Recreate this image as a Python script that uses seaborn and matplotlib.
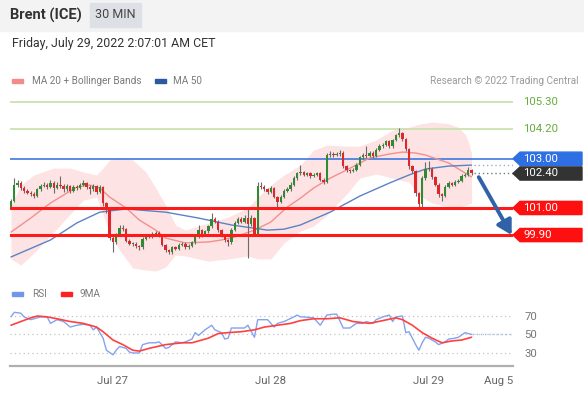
import numpy as np
import pandas as pd
import matplotlib
matplotlib.use("Agg")
import matplotlib.pyplot as plt
import matplotlib.transforms as mtransforms
from matplotlib.patches import Rectangle, Polygon
import seaborn as sns

# ---------------- data ----------------
title = "Brent (ICE)"
timeframe = "30 MIN"
date_text = "Friday, July 29, 2022 2:07:01 AM CET"
start_time = "2022-07-26 08:30"

opens = [101.05, 101.30, 101.95, 102.02, 101.80, 101.70, 101.62, 101.58, 101.50, 101.75,
         101.90, 101.95, 101.85, 102.00, 101.80, 101.95, 101.90, 101.75, 101.90, 101.70,
         101.85, 101.80, 101.95, 102.00, 101.85, 101.75, 101.90, 101.65, 101.85, 101.20,
         100.90, 99.80, 99.60, 99.90, 100.20, 100.15, 99.65, 99.55, 99.55, 99.45,
         99.40, 99.75, 99.85, 99.85, 99.95, 100.00, 99.90, 99.50, 99.30, 99.20,
         99.40, 99.35, 99.50, 99.55, 99.40, 99.45, 99.60, 99.85, 100.10, 99.90,
         100.05, 100.25, 100.55, 100.45, 100.10, 99.90, 99.70, 99.60, 100.10, 100.40,
         100.55, 100.45, 100.60, 100.35, 100.60, 99.95, 101.90, 101.85, 101.75, 101.65,
         101.80, 101.45, 101.25, 101.45, 101.70, 101.75, 101.95, 102.20, 102.40, 102.45,
         102.35, 102.40, 102.30, 102.35, 102.40, 102.15, 102.05, 103.15, 103.20, 103.15,
         103.20, 103.25, 102.70, 102.55, 102.50, 102.55, 102.75, 103.05, 103.15, 103.10,
         103.25, 103.10, 103.35, 103.50, 103.55, 103.70, 103.50, 103.75, 103.95, 104.05,
         103.80, 103.40, 102.70, 102.50, 101.60, 101.15, 102.20, 102.60, 102.60, 102.25,
         101.95, 101.55, 101.50, 101.85, 102.00, 101.95, 102.05, 102.10, 102.30, 102.35,
         102.55]
closes = [101.30, 101.95, 102.02, 101.80, 101.70, 101.62, 101.58, 101.50, 101.75, 101.90,
          101.95, 101.85, 102.00, 101.80, 101.95, 101.90, 101.75, 101.90, 101.70, 101.85,
          101.80, 101.95, 102.00, 101.85, 101.75, 101.90, 101.65, 101.85, 101.20, 100.90,
          99.80, 99.60, 99.90, 100.20, 100.15, 99.65, 99.55, 99.55, 99.45, 99.40,
          99.75, 99.85, 99.85, 99.95, 100.00, 99.90, 99.50, 99.30, 99.20, 99.40,
          99.35, 99.50, 99.55, 99.40, 99.45, 99.60, 99.85, 100.10, 99.90, 100.05,
          100.25, 100.55, 100.45, 100.10, 99.90, 99.70, 99.60, 100.10, 100.40, 100.55,
          100.45, 100.60, 100.35, 100.60, 99.95, 101.90, 101.85, 101.75, 101.65, 101.80,
          101.45, 101.25, 101.45, 101.70, 101.75, 101.95, 102.20, 102.40, 102.45, 102.35,
          102.40, 102.30, 102.35, 102.40, 102.15, 102.05, 103.15, 103.20, 103.15, 103.20,
          103.25, 102.70, 102.55, 102.50, 102.55, 102.75, 103.05, 103.15, 103.10, 103.25,
          103.10, 103.35, 103.50, 103.55, 103.70, 103.50, 103.75, 103.95, 104.05, 103.80,
          103.40, 102.70, 102.50, 101.60, 101.15, 102.20, 102.60, 102.60, 102.25, 101.95,
          101.55, 101.50, 101.85, 102.00, 101.95, 102.05, 102.10, 102.30, 102.35, 102.55,
          102.40]
highs = [101.38, 102.22, 102.12, 102.08, 101.88, 101.78, 101.70, 101.66, 101.80, 101.98,
         102.05, 102.02, 102.12, 102.08, 102.05, 102.30, 101.98, 101.98, 101.95, 101.92,
         101.92, 102.02, 102.12, 102.05, 101.92, 101.98, 101.95, 101.92, 101.90, 101.25,
         100.95, 99.85, 100.00, 100.30, 100.30, 100.20, 99.72, 99.62, 99.60, 99.50,
         99.82, 99.92, 99.92, 100.02, 100.08, 100.05, 99.95, 99.55, 99.35, 99.46,
         99.45, 99.56, 99.62, 99.60, 99.52, 99.66, 99.92, 100.30, 100.15, 100.12,
         100.32, 100.80, 100.62, 100.50, 100.15, 99.95, 99.75, 100.18, 100.48, 100.65,
         100.62, 100.72, 101.00, 100.70, 100.65, 102.05, 102.05, 101.95, 101.82, 101.88,
         101.85, 101.50, 101.52, 101.78, 101.85, 102.05, 102.28, 102.48, 102.75, 102.52,
         102.48, 102.45, 102.42, 102.48, 102.45, 102.20, 103.22, 103.30, 103.28, 103.28,
         103.35, 103.30, 102.75, 102.60, 102.62, 102.82, 103.12, 103.25, 103.50, 103.32,
         103.30, 103.42, 103.58, 103.65, 103.78, 103.75, 103.82, 104.02, 104.25, 104.10,
         103.85, 103.45, 102.75, 102.55, 101.65, 102.28, 102.85, 102.90, 102.65, 102.30,
         102.00, 101.62, 101.92, 102.08, 102.05, 102.12, 102.18, 102.38, 102.42, 102.65,
         102.58]
lows = [100.98, 101.25, 101.85, 101.74, 101.62, 101.55, 101.50, 101.42, 101.46, 101.70,
        101.85, 101.78, 101.80, 101.62, 101.75, 101.82, 101.66, 101.70, 101.62, 101.66,
        101.72, 101.76, 101.90, 101.78, 101.55, 101.70, 101.58, 101.60, 101.10, 100.80,
        99.70, 99.20, 99.55, 99.85, 100.05, 99.60, 99.48, 99.45, 99.38, 99.30,
        99.35, 99.70, 99.78, 99.80, 99.90, 99.84, 99.45, 99.22, 99.12, 99.15,
        99.28, 99.30, 99.45, 99.33, 99.35, 99.40, 99.55, 99.80, 99.82, 99.85,
        100.00, 100.20, 100.38, 100.02, 99.82, 99.62, 99.45, 99.55, 100.05, 100.35,
        100.38, 100.40, 98.95, 100.28, 99.88, 99.90, 101.75, 101.68, 101.58, 101.60,
        101.40, 101.05, 101.20, 101.40, 101.65, 101.70, 101.90, 102.15, 102.35, 102.28,
        102.30, 102.22, 102.25, 102.30, 102.08, 101.98, 102.00, 103.08, 103.08, 103.10,
        103.12, 102.62, 102.48, 102.42, 102.45, 102.50, 102.70, 103.00, 103.02, 103.05,
        103.02, 103.05, 103.30, 103.45, 103.50, 103.42, 103.45, 103.70, 103.90, 103.72,
        103.32, 102.60, 102.40, 101.50, 100.95, 101.05, 102.15, 102.50, 102.18, 101.88,
        101.45, 101.30, 101.45, 101.80, 101.88, 101.90, 102.00, 102.05, 102.25, 102.30,
        102.35]

ma20_idx = [0, 6, 12, 20, 24, 27, 30, 35, 39, 44, 47, 53, 60, 64, 68, 74, 79, 84, 88,
            92, 97, 102, 109, 115, 119, 123, 126, 133, 140]
ma20_vals = [100.02, 100.59, 101.20, 101.85, 101.93, 101.81, 101.44, 101.00, 100.51, 100.10,
             99.78, 99.58, 99.62, 99.70, 99.82, 100.10, 100.43, 101.04, 101.40, 101.81,
             102.21, 102.54, 103.03, 103.19, 103.27, 103.23, 103.15, 102.83, 102.26]

ma50_idx = [0, 12, 20, 27, 35, 47, 57, 67, 78, 83, 88, 97, 106, 115, 121, 126, 133, 140]
ma50_vals = [99.01, 99.70, 100.39, 100.83, 100.96, 100.83, 100.59, 100.31, 100.10, 100.14,
             100.31, 100.83, 101.48, 102.01, 102.34, 102.58, 102.70, 102.74]

band_idx = [0, 3, 7, 13, 18, 22, 26, 28, 30, 33, 37, 41, 44, 47, 50, 53, 60, 66, 72, 75,
            79, 83, 88, 92, 96, 102, 106, 111, 116, 121, 124, 128, 133, 136, 138, 139, 140]
band_upper = [101.12, 101.93, 102.34, 102.62, 102.62, 102.46, 102.34, 102.62, 102.95, 103.03,
              102.95, 102.46, 101.81, 101.12, 100.31, 100.10, 100.39, 100.63, 101.00, 101.44,
              101.93, 102.34, 102.74, 103.35, 103.55, 103.51, 103.51, 103.76, 104.16, 104.28,
              104.40, 104.49, 104.42, 104.28, 104.00, 103.70, 103.20]
band_lower = [98.93, 98.68, 99.17, 100.02, 100.75, 101.32, 101.44, 100.75, 99.94, 99.29,
              98.56, 98.48, 98.44, 98.60, 99.09, 99.05, 98.84, 98.93, 99.05, 98.93,
              98.93, 99.58, 100.06, 100.27, 100.71, 101.56, 102.21, 102.38, 102.21, 102.05,
              101.50, 101.20, 101.05, 101.05, 101.10, 101.15, 101.20]

rsi_idx = [0, 1, 3, 4, 6, 9, 11, 12, 14, 16, 18, 20, 22, 24, 25, 26, 28, 29, 31, 32,
           33, 35, 36, 37, 39, 40, 42, 44, 45, 47, 48, 50, 52, 53, 55, 56, 57, 59, 61, 62,
           64, 65, 66, 67, 69, 71, 72, 74, 75, 78, 80, 81, 83, 86, 87, 88, 89, 92, 94, 96,
           98, 99, 101, 103, 105, 107, 108, 110, 111, 113, 115, 116, 117, 119, 120, 121, 123,
           124, 125, 126, 127, 129, 130, 132, 133, 135, 136, 138, 139, 140]
rsi_vals = [69, 74, 73, 69, 66, 69, 69, 62, 66, 64, 58, 60, 61, 60, 55, 58, 46, 33, 28, 33,
            37, 35, 31, 30, 30, 39, 41, 41, 42, 35, 36, 42, 41, 42, 45, 52, 49, 55, 60, 55,
            52, 45, 46, 57, 57, 57, 60, 47, 66, 66, 58, 62, 64, 69, 71, 69, 69, 68, 60, 71,
            72, 72, 57, 57, 62, 62, 64, 62, 66, 69, 71, 64, 69, 70, 52, 53, 39,
            33, 41, 47, 46, 42, 39, 42, 45, 46, 47, 52, 51, 50]

ma9_idx = [0, 3, 6, 8, 11, 14, 18, 22, 26, 28, 31, 34, 37, 39, 42, 47, 52, 55, 60, 63,
           66, 70, 74, 77, 81, 85, 88, 92, 96, 100, 104, 109, 113, 117, 119, 122, 125, 128,
           131, 134, 137, 140]
ma9_vals = [60, 64, 68, 70, 69, 67, 64, 62, 58, 53, 44, 39, 33, 32, 35, 39, 41, 41, 46, 51,
            52, 53, 55, 58, 60, 62, 65, 67, 67, 68, 64, 62, 65, 68, 66, 60, 52, 46,
            41, 43, 44, 47]

levels_green = [105.30, 104.20]
level_blue = 103.00
levels_red = [101.00, 99.90]
rsi_levels = [70, 50, 30]
day_labels = ["Jul 27", "Jul 28", "Jul 29"]
end_label = "Aug 5"

# ---------------- style ----------------
sns.set_theme(style="white")
plt.rcParams['font.family'] = ['Roboto', 'DejaVu Sans']

W, H = 584, 393
fig = plt.figure(figsize=(W / 100, H / 100), dpi=100)
fig.patch.set_facecolor('white')

def fx(px):
    return px / W

def fy(py):
    return 1 - py / H

# header
fig.patches.append(Rectangle((0, fy(31)), 1, 31 / H, transform=fig.transFigure,
                             color='#f3f3f3', zorder=0))
fig.patches.append(Rectangle((fx(90), fy(27)), fx(51), 24 / H, transform=fig.transFigure,
                             color='#dde1e6', zorder=1))
fig.text(fx(10), fy(15), title, fontsize=10.5, fontweight='bold', color='#333333',
         va='center', ha='left')
fig.text(fx(115.5), fy(15), timeframe, fontsize=9, color='#444444', va='center', ha='center')
fig.text(fx(12), fy(44), date_text, fontsize=8.9, color='#333333', va='center', ha='left')

# legend row
leg_fs = 7.2
fig.patches.append(Rectangle((fx(12), fy(83)), fx(11), 4 / H, transform=fig.transFigure,
                             color='#f28b8b'))
fig.text(fx(32), fy(81), "MA 20 + Bollinger Bands", fontsize=leg_fs, color='#7a7a7a', va='center')
fig.patches.append(Rectangle((fx(155), fy(83)), fx(11), 4 / H, transform=fig.transFigure,
                             color='#2d5a9e'))
fig.text(fx(173), fy(81), "MA 50", fontsize=leg_fs, color='#7a7a7a', va='center')
fig.text(fx(579), fy(81), "Research \u00a9 2022 Trading Central", fontsize=leg_fs,
         color='#9a9a9a', va='center', ha='right')

# ---------------- main panel ----------------
ax = fig.add_axes([fx(10), fy(272), fx(503), (272 - 90) / H])
ax.set_xlim(-0.3, 152.6)
ax.set_ylim(98.40, 105.79)
ax.axis('off')

ax.fill_between(band_idx, band_lower, band_upper, color='#fde3e3', lw=0, zorder=1)

for lv in levels_green:
    ax.axhline(lv, color='#c6e0a8', lw=1.2, zorder=2)
ax.axhline(level_blue, color='#3f78e0', lw=1.2, zorder=2)

sns.lineplot(x=ma20_idx, y=ma20_vals, ax=ax, color='#f29090', lw=1, zorder=3)
sns.lineplot(x=ma50_idx, y=ma50_vals, ax=ax, color='#5a83c6', lw=1, zorder=3)

o = np.array(opens)
c = np.array(closes)
idx = np.arange(len(c))
up = c >= o
ax.vlines(idx, lows, highs, color='#6b6b6b', lw=0.8, zorder=4)
bottom = np.minimum(o, c)
height = np.maximum(np.abs(c - o), 0.03)
ax.bar(idx[up], height[up], bottom=bottom[up], width=0.72, color='#2f8a30', lw=0, zorder=5)
ax.bar(idx[~up], height[~up], bottom=bottom[~up], width=0.72, color='#e0262b', lw=0, zorder=5)

for lv in levels_red:
    ax.axhline(lv, color='#ff1a1a', lw=2.2, zorder=6)

# last-value dotted lines
ax.plot([idx[-1] + 0.8, 152.6], [ma50_vals[-1]] * 2, color='#93acd9', ls=(0, (1, 2)),
        lw=1, zorder=3)
ax.plot([idx[-1] + 0.8, 152.6], [closes[-1]] * 2, color='#777777', ls=(0, (1, 2)),
        lw=1, zorder=3)

# forecast arrow
ax.annotate('', xy=(152.2, levels_red[1]), xytext=(142.2, closes[-1] - 0.15),
            arrowprops=dict(arrowstyle='-|>,head_length=0.7,head_width=0.4',
                            color='#2f62a6', lw=2.8, shrinkA=0, shrinkB=0),
            annotation_clip=False, zorder=7)

# right-hand labels
trans = mtransforms.blended_transform_factory(ax.transAxes, ax.transData)

def axx(px):
    return (px - 10) / 503

hh = 6.6 / 24.63

def tag(y, text, color):
    verts = [(axx(513), y), (axx(520), y + hh), (axx(582), y + hh),
             (axx(582), y - hh), (axx(520), y - hh)]
    ax.add_patch(Polygon(verts, closed=True, transform=trans, color=color,
                         clip_on=False, zorder=8))
    ax.text(axx(523), y, text, transform=trans, color='white', fontsize=8.2,
            va='center', ha='left', clip_on=False, zorder=9)

for lv in levels_green:
    ax.text(axx(523), lv, f"{lv:.2f}", transform=trans, color='#66ad3c', fontsize=8.2,
            va='center', ha='left', clip_on=False)
tag(level_blue, f"{level_blue:.2f}", '#2f6fe4')
tag(closes[-1], f"{closes[-1]:.2f}", '#333333')
for lv in levels_red:
    tag(lv, f"{lv:.2f}", '#ff1010')

# ---------------- RSI panel ----------------
fig.patches.append(Rectangle((fx(12), fy(296)), fx(11), 4 / H, transform=fig.transFigure,
                             color='#7395ea'))
fig.text(fx(32), fy(294), "RSI", fontsize=leg_fs, color='#7a7a7a', va='center')
fig.patches.append(Rectangle((fx(61), fy(296)), fx(11), 4 / H, transform=fig.transFigure,
                             color='#ff2020'))
fig.text(fx(80), fy(294), "9MA", fontsize=leg_fs, color='#7a7a7a', va='center')

rax = fig.add_axes([fx(10), fy(366), fx(503), (366 - 303) / H])
rax.set_xlim(-0.3, 152.6)
rax.set_ylim(15.9, 84.05)
rax.set_facecolor('none')
for v in rsi_levels:
    rax.axhline(v, color='#c4c4c4', ls=(0, (1, 2.5)), lw=0.9, zorder=1)
sns.lineplot(x=rsi_idx, y=rsi_vals, ax=rax, color='#84a2ee', lw=1, zorder=3)
sns.lineplot(x=ma9_idx, y=ma9_vals, ax=rax, color='#ff4040', lw=1.2, zorder=4)
rax.plot([rsi_idx[-1], 152.6], [rsi_vals[-1]] * 2, color='#9fb5ee', ls=(0, (1, 2)),
         lw=1, zorder=2)

for s in ['top', 'left', 'right']:
    rax.spines[s].set_visible(False)
rax.spines['bottom'].set_color('#b0b0b0')
rax.spines['bottom'].set_linewidth(1.6)

times = pd.date_range(start_time, periods=len(closes), freq='30min')
day_pos = [i for i, t in enumerate(times) if t.hour == 0 and t.minute == 0]
rax.set_xticks(day_pos + [152.6])
rax.set_xticklabels(day_labels + [end_label])
rax.set_xticks([-0.3, 152.6], minor=True)
rax.tick_params(axis='x', which='major', length=0, pad=7, labelsize=8.2, labelcolor='#666666')
rax.tick_params(axis='x', which='minor', length=5, width=1.4, color='#b0b0b0', direction='out')
rax.get_xticklabels()[-1].set_horizontalalignment('right')
rax.yaxis.tick_right()
rax.set_yticks(rsi_levels)
rax.set_yticklabels([str(v) for v in rsi_levels])
rax.tick_params(axis='y', length=0, pad=8, labelsize=8.2, labelcolor='#777777')
rax.set_xlabel('')
rax.set_ylabel('')
rax.grid(False)

fig.savefig('out.png', dpi=100)
